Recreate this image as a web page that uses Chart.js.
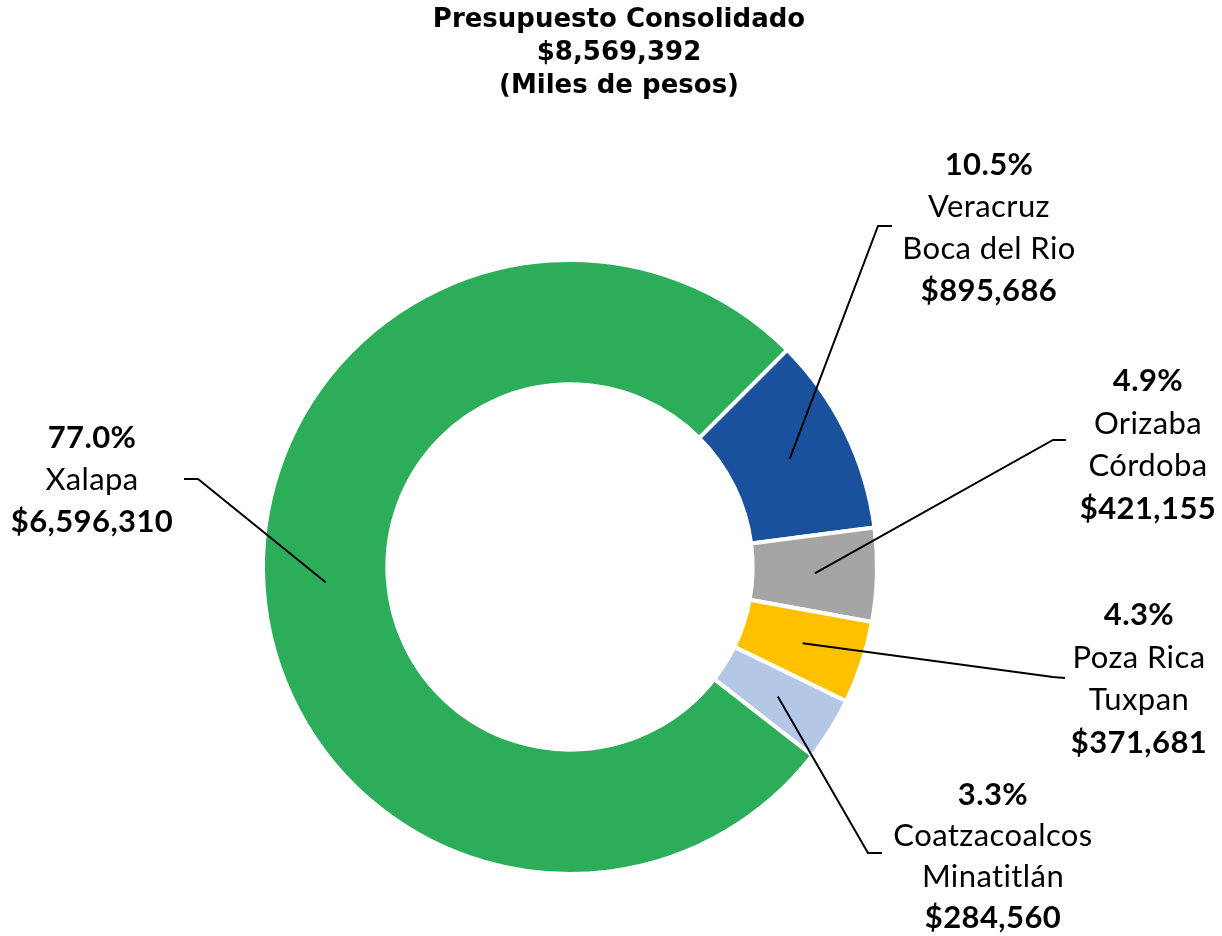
<!DOCTYPE html>
<html>
<head>
<meta charset="utf-8">
<script src="https://cdn.jsdelivr.net/npm/chart.js@4"></script>
<style>
  html, body { margin: 0; padding: 0; background: #fff; }
  #wrap { width: 1222px; height: 936px; }
</style>
</head>
<body>
<div id="wrap"><canvas id="myChart"></canvas></div>
<script>
// data
const regions = [['Veracruz', 'Boca del Rio'], ['Orizaba', 'Córdoba'], ['Poza Rica', 'Tuxpan'], ['Coatzacoalcos', 'Minatitlán'], ['Xalapa']];
const budget = [895686, 421155, 371681, 284560, 6596310];
const colors = ['#1A519C', '#A5A5A5', '#FFC000', '#B4C7E7', '#2BAD5A'];
const titleLines = ['Presupuesto Consolidado', '$8,569,392', '(Miles de pesos)'];

// where each label block sits and where its leader line bends
const labelSpots = [
  { x: 989, y: 165, gap: 42, elbow: [878, 226], end: [892, 226] },
  { x: 1148, y: 381, gap: 42.5, elbow: [1053, 440], end: [1066, 440] },
  { x: 1139, y: 615, gap: 42.5, elbow: [1053, 677], end: [1065, 678] },
  { x: 993, y: 795, gap: 41, elbow: [868, 853], end: [882, 853] },
  { x: 92, y: 438, gap: 42, elbow: [198, 479], end: [184, 479] }
];

const total = budget.reduce((a, b) => a + b, 0);
const money = v => '$' + v.toLocaleString('en-US');

const labelPlugin = {
  id: 'labels',
  afterDraw(chart) {
    const ctx = chart.ctx;
    const arcs = chart.getDatasetMeta(0).data;
    ctx.save();

    // title
    ctx.fillStyle = '#000';
    ctx.textAlign = 'center';
    ctx.textBaseline = 'middle';
    ctx.font = 'bold 26px "DejaVu Sans"';
    titleLines.forEach((t, i) => ctx.fillText(t, 619, 20 + i * 33));

    // small spacing keeps Lato from joining "ti"
    ctx.letterSpacing = '0.4px';
    arcs.forEach((arc, i) => {
      const spot = labelSpots[i];
      const p = arc.tooltipPosition();
      ctx.strokeStyle = '#000';
      ctx.lineWidth = 2;
      ctx.beginPath();
      ctx.moveTo(p.x, p.y);
      ctx.lineTo(spot.elbow[0], spot.elbow[1]);
      ctx.lineTo(spot.end[0], spot.end[1]);
      ctx.stroke();

      const lines = [{ t: (budget[i] / total * 100).toFixed(1) + '%', b: true }]
        .concat(regions[i].map(r => ({ t: r, b: false })))
        .concat([{ t: money(budget[i]), b: true }]);
      lines.forEach((ln, k) => {
        ctx.font = (ln.b ? 'bold ' : '') + '31px Lato';
        ctx.fillText(ln.t, spot.x, spot.y + k * spot.gap);
      });
    });
    ctx.restore();
  }
};

new Chart(document.getElementById('myChart').getContext('2d'), {
  type: 'doughnut',
  data: {
    labels: regions.map(r => r.join(' ')),
    datasets: [{
      data: budget,
      backgroundColor: colors,
      borderColor: '#fff',
      borderWidth: 4
    }]
  },
  options: {
    responsive: true,
    maintainAspectRatio: false,
    animation: false,
    rotation: 45,
    cutout: '59.5%',
    layout: { padding: { top: 258, left: 261, right: 343, bottom: 60 } },
    plugins: {
      legend: { display: false },
      tooltip: { enabled: false }
    }
  },
  plugins: [labelPlugin]
});
</script>
</body>
</html>
